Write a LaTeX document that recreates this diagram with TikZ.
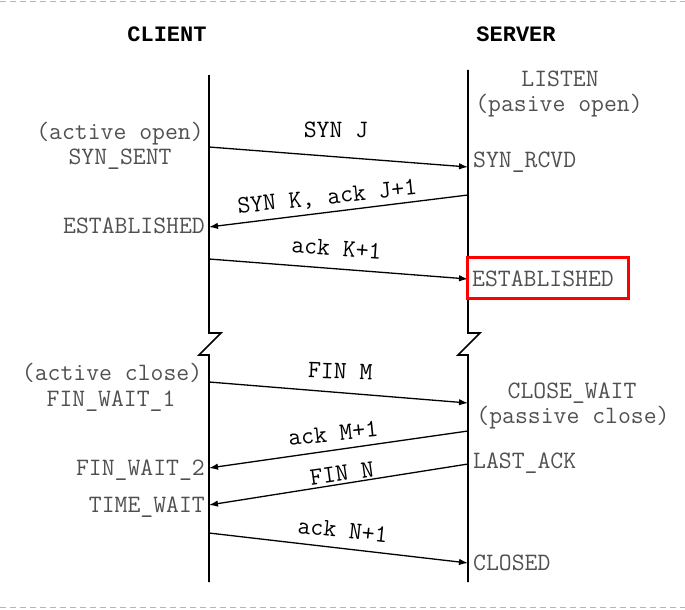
\documentclass[tikz,border=0pt]{standalone}
\usepackage{fontspec}
\newfontfamily\cour{Liberation Mono}
\usetikzlibrary{arrows.meta}
\definecolor{stategray}{HTML}{505050}
\definecolor{dashblue}{HTML}{A9B7C6}
\begin{document}
\begin{tikzpicture}[x=1pt,y=-1pt,
  every node/.style={font=\ttfamily\fontsize{25}{27}\selectfont, inner sep=0pt},
  state/.style={text=stategray, text height=15pt, text depth=3pt},
  msg/.style={text=black},
  head/.style={font=\cour\bfseries\fontsize{22}{24}\selectfont, text=black},
  life/.style={line width=1.6pt, line join=miter},
  arr/.style={line width=1.3pt, -{Latex[length=9pt,width=6.5pt]}},
  frame/.style={dashblue, line width=1.5pt, dash pattern=on 6pt off 4pt},
  redbox/.style={draw=red, line width=3pt, minimum width=161pt, minimum height=41pt}]
\useasboundingbox (0,0) rectangle (685,610);
% frame lines
\draw[frame] (0,1.5) -- (685,1.5);
\draw[frame] (0,607.5) -- (685,607.5);

% headers
\node[head, anchor=base] (client) at (167,42) {CLIENT};
\node[head, anchor=base] (server) at (516,42) {SERVER};

% lifeline coordinates
\coordinate (cTop) at (209,75);
\coordinate (cB1) at (209,333);
\coordinate (cB2) at (221,333);
\coordinate (cB3) at (199,355);
\coordinate (cB4) at (209,355);
\coordinate (cBot) at (209,582);
\coordinate (sTop) at (468,70);
\coordinate (sB1) at (468,333);
\coordinate (sB2) at (480,333);
\coordinate (sB3) at (458,355);
\coordinate (sB4) at (468,355);
\coordinate (sBot) at (468,582);
\draw[life] (cTop) -- (cB1) -- (cB2) -- (cB3) -- (cB4) -- (cBot);
\draw[life] (sTop) -- (sB1) -- (sB2) -- (sB3) -- (sB4) -- (sBot);

% message endpoints
\coordinate (c1) at (209,147);  \coordinate (s1) at (468,167);
\coordinate (s2) at (468,195);  \coordinate (c2) at (209,227);
\coordinate (c3) at (209,259);  \coordinate (s3) at (468,279);
\coordinate (c4) at (209,382);  \coordinate (s4) at (468,403);
\coordinate (s5) at (468,431);  \coordinate (c5) at (209,468);
\coordinate (s6) at (468,464);  \coordinate (c6) at (209,505);
\coordinate (c7) at (209,533);  \coordinate (s7) at (468,563);

\draw[arr] (c1) -- (s1);
\draw[arr] (s2) -- (c2);
\draw[arr] (c3) -- (s3);
\draw[arr] (c4) -- (s4);
\draw[arr] (s5) -- (c5);
\draw[arr] (s6) -- (c6);
\draw[arr] (c7) -- (s7);

% message labels
\node[msg, anchor=base] (m1) at (336,137) {SYN J};
\node[msg, anchor=base, rotate=6] (m2) at (328,204) {SYN K, ack J+1};
\node[msg, anchor=base, rotate=-4] (m3) at (336,256) {ack K+1};
\node[msg, anchor=base, rotate=-2] (m4) at (340,379) {FIN M};
\node[msg, anchor=base, rotate=6] (m5) at (334,441) {ack M+1};
\node[msg, anchor=base, rotate=8] (m6) at (343,481) {FIN N};
\node[msg, anchor=base, rotate=-6] (m7) at (342,538) {ack N+1};

% client states
\node[state, anchor=base] (aopen) at (120,139) {(active open)};
\node[state, anchor=base] (synsent) at (120,164) {SYN\_SENT};
\node[state, anchor=base east] (cest) at (205,233) {ESTABLISHED};
\node[state, anchor=base] (aclose) at (112,380) {(active close)};
\node[state, anchor=base] (fw1) at (111,406) {FIN\_WAIT\_1};
\node[state, anchor=base east] (fw2) at (205,475) {FIN\_WAIT\_2};
\node[state, anchor=base east] (tw) at (205,512) {TIME\_WAIT};

% server states
\node[state, anchor=base] (listen) at (560,86) {LISTEN};
\node[state, anchor=base] (popen) at (559,111) {(pasive open)};
\node[state, anchor=base west] (synrcvd) at (473,167) {SYN\_RCVD};
\node[state, anchor=base west] (sest) at (472,286) {ESTABLISHED};
\node[redbox] (hl) at (547.5,277.5) {};
\node[state, anchor=base] (cwait) at (572,398) {CLOSE\_WAIT};
\node[state, anchor=base] (pclose) at (573,423) {(passive close)};
\node[state, anchor=base west] (lack) at (473,468) {LAST\_ACK};
\node[state, anchor=base west] (closed) at (473,570) {CLOSED};
\end{tikzpicture}
\end{document}
